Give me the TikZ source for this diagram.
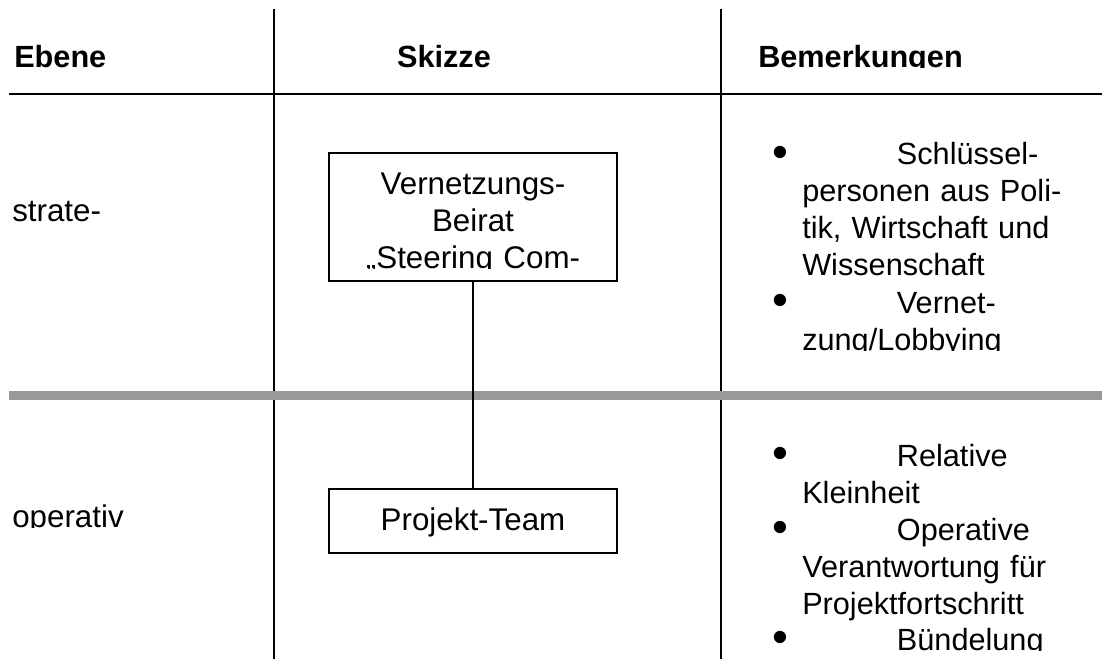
\documentclass[tikz,border=0pt]{standalone}
\usepackage{fontspec}
\setmainfont{Liberation Sans}
\usetikzlibrary{positioning}

\newcommand{\bulmark}{\llap{\makebox[0pt]{\raisebox{-2pt}{\fontsize{34}{34}\selectfont\textbullet}}\hspace{16.5pt}}\hspace*{71pt}}

\tikzset{
  gridline/.style={draw=black, line width=0.8pt},
  levelsep/.style={draw=black!40, line width=6.75pt},
  headtext/.style={font=\fontsize{23}{27}\selectfont\bfseries, inner sep=0pt, anchor=base west},
  celltext/.style={font=\fontsize{23}{27.75}\selectfont, inner sep=0pt, anchor=base west, text width=220pt, align=left},
  skbox/.style={draw, line width=1.2pt, minimum width=216pt, inner sep=0pt},
  skizzetext/.style={font=\fontsize{23.5}{27.75}\selectfont, inner sep=0pt, anchor=base, text width=216pt, align=center},
  connector/.style={draw, line width=1.2pt},
}

\begin{document}
\begin{tikzpicture}[x=0.75pt, y=-0.75pt]
  \useasboundingbox (0,0) rectangle (1102,659);

  % table grid
  \draw[gridline] (274,9) -- (274,659);
  \draw[gridline] (721,9) -- (721,659);
  \draw[gridline] (9,94) -- (1102,94);
  \draw[levelsep] (9,395) -- (1102,395);

  % header row
  \begin{scope}
    \clip (0,0) rectangle (1102,67.5);
    \node[headtext] (hebene) at (14,68) {Ebene};
    \node[headtext, anchor=base] (hskizze) at (444,68) {Skizze};
    \node[headtext] (hbem) at (758,68) {Bemerkungen};
  \end{scope}

  % levels
  \begin{scope}
    \clip (0,95) rectangle (273,222);
    \node[headtext, font=\fontsize{23.5}{27.75}\selectfont] (lstrat) at (12,222) {strate-};
  \end{scope}
  \begin{scope}
    \clip (0,400) rectangle (273,527);
    \node[headtext, font=\fontsize{23.5}{27.75}\selectfont] (lop) at (12,527) {operativ};
  \end{scope}

  % sketch: boxes and link
  \node[skbox, minimum height=96pt] (beirat) at (473,217) {};
  \node[skbox, minimum height=48pt] (team) at (473,521) {};
  \begin{scope}
    \clip (330,154) rectangle (616,268);
    \node[skizzetext] (tbeirat) at (473,195) {Vernetzungs-\\Beirat\\„Steering Com-};
  \end{scope}
  \node[skizzetext] (tteam) at (473,530) {Projekt-Team};
  \draw[connector] (beirat) -- (team);

  % remarks, strategic level
  \begin{scope}
    \clip (722,95) rectangle (1102,350);
    \node[celltext] (rschluessel) at (802,165) {\bulmark Schlüssel-\\personen aus Poli-\\tik, Wirtschaft und\\Wissenschaft};
    \node[celltext] (rvernetz) at (802,313) {\bulmark Vernet-\\zung/Lobbying};
  \end{scope}
  % remarks, operative level
  \begin{scope}
    \clip (722,400) rectangle (1102,650);
    \node[celltext] (rklein) at (802,466) {\bulmark Relative\\Kleinheit};
    \node[celltext] (rverantw) at (802,540) {\bulmark Operative\\Verantwortung für\\Projektfortschritt};
    \node[celltext] (rbuendel) at (802,650) {\bulmark Bündelung};
  \end{scope}
\end{tikzpicture}
\end{document}
